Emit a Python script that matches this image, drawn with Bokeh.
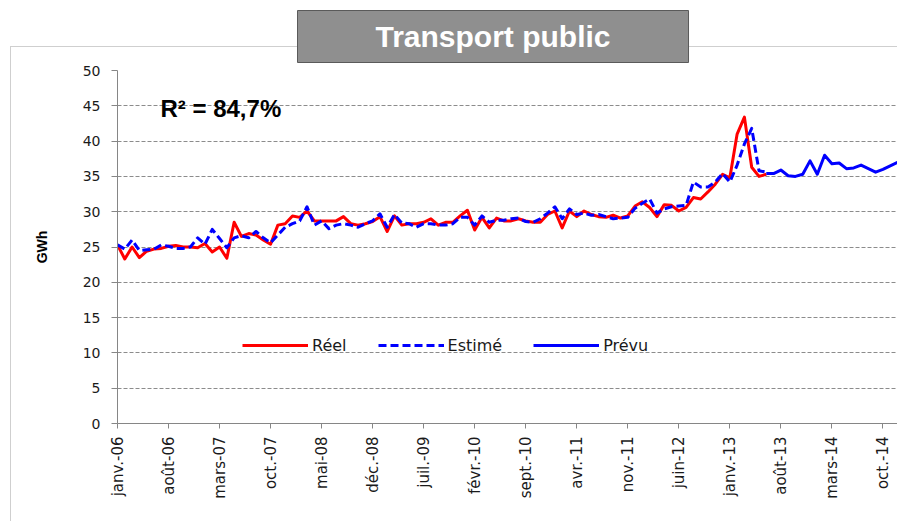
import math
from bokeh.plotting import figure
from bokeh.models import (Range1d, FixedTicker, Legend, LegendItem, Label, Title,
                          ColumnDataSource, InlineStyleSheet)
from bokeh.embed import file_html
from bokeh.resources import INLINE

title_text = "Transport public"
r2_text = "R\u00b2 = 84,7%"
y_label = "GWh"

tick_labels = ["janv.-06", "août-06", "mars-07", "oct.-07", "mai-08", "déc.-08",
               "juil.-09", "févr.-10", "sept.-10", "avr.-11", "nov.-11", "juin-12",
               "janv.-13", "août-13", "mars-14", "oct.-14"]
tick_step = 7          # months between labels
n_months = 108         # janv.-06 .. déc.-14

reel = [25.3, 23.3, 25.0, 23.5, 24.4, 24.7, 24.8, 25.1, 25.2, 25.0,
        25.0, 24.9, 25.5, 24.3, 25.0, 23.4, 28.5, 26.5, 26.9, 26.7,
        26.0, 25.4, 28.1, 28.3, 29.4, 29.2, 30.1, 28.7, 28.7, 28.7,
        28.7, 29.3, 28.3, 28.1, 28.3, 28.6, 29.3, 27.2, 29.4, 28.1,
        28.3, 28.3, 28.5, 29.0, 28.1, 28.5, 28.5, 29.4, 30.2, 27.4,
        29.2, 27.7, 29.1, 28.7, 28.7, 29.0, 28.7, 28.5, 28.5, 29.6,
        30.1, 27.7, 30.1, 29.3, 30.1, 29.6, 29.3, 29.2, 29.5, 29.1,
        29.4, 30.8, 31.4, 30.6, 29.3, 31.0, 30.9, 30.1, 30.6, 32.0,
        31.8, 32.8, 33.9, 35.3, 34.8, 41.0, 43.4, 36.3, 35.0, 35.3]

estime = [25.3, 24.7, 26.0, 24.5, 24.6, 24.7, 25.3, 25.1, 24.8, 24.8,
          25.0, 26.3, 25.4, 27.5, 26.2, 24.9, 26.3, 26.6, 26.3, 27.2,
          26.3, 25.6, 26.7, 27.8, 28.3, 28.7, 30.7, 28.1, 28.7, 27.6,
          28.1, 28.3, 28.1, 27.8, 28.3, 28.7, 29.7, 27.8, 29.6, 28.4,
          28.3, 27.8, 28.3, 28.3, 28.1, 28.1, 28.3, 29.2, 29.2, 28.1,
          29.4, 28.5, 28.8, 28.8, 29.0, 29.1, 28.6, 28.5, 29.0, 29.8,
          30.7, 29.0, 30.4, 29.6, 29.8, 29.5, 29.6, 29.3, 29.0, 29.1,
          29.2, 30.5, 31.2, 31.8, 29.8, 30.4, 30.7, 30.8, 30.9, 34.2,
          33.5, 33.5, 34.2, 35.4, 34.2, 36.6, 39.6, 41.8, 35.8, 35.6]

prevu_start = 89
prevu = [35.4, 35.4, 35.9, 35.1, 35.0, 35.3, 37.2, 35.3, 38.0, 36.8,
         36.9, 36.1, 36.2, 36.6, 36.1, 35.6, 36.0, 36.5, 37.0]

RED = "#FF0000"
BLUE = "#0000FF"

W, H = 897, 521
border_css = """
:host {
  background:
    linear-gradient(#CFCFCF, #CFCFCF) 10px 46px / 100% 1px no-repeat,
    linear-gradient(#CFCFCF, #CFCFCF) 10px 46px / 1px 100% no-repeat,
    white;
}
"""

p = figure(width=W, height=H, output_backend="svg", toolbar_location=None,
           x_range=Range1d(0, n_months - 1), y_range=Range1d(0, 50),
           min_border_left=117, min_border_right=0, min_border_top=70,
           min_border_bottom=98, title=None,
           stylesheets=[InlineStyleSheet(css=border_css)])
p.outline_line_color = None
p.background_fill_color = "white"
p.border_fill_alpha = 0

p.add_layout(Title(text=title_text, align="left", offset=180, standoff=16,
                   text_font="Liberation Sans", text_font_style="bold",
                   text_font_size="30px", text_color="white",
                   background_fill_color="#8F8F8F", background_fill_alpha=1,
                   border_line_color="#5A5A5A", border_line_width=1,
                   padding=dict(left=78, right=78, top=9, bottom=10)), "above")

src_r = ColumnDataSource(dict(x=list(range(len(reel))), y=reel))
src_e = ColumnDataSource(dict(x=list(range(len(estime))), y=estime))
src_p = ColumnDataSource(dict(x=list(range(prevu_start, prevu_start + len(prevu))), y=prevu))

r_reel = p.line("x", "y", source=src_r, line_color=RED, line_width=3, line_join="round")
r_est = p.line("x", "y", source=src_e, line_color=BLUE, line_width=3, line_dash="8 4",
               line_join="round")
r_prev = p.line("x", "y", source=src_p, line_color=BLUE, line_width=3, line_join="round")

# axes
p.xaxis.ticker = FixedTicker(ticks=[i * tick_step for i in range(len(tick_labels))])
p.xaxis.major_label_overrides = {i * tick_step: lab for i, lab in enumerate(tick_labels)}
p.xaxis.major_label_orientation = math.pi / 2
p.xaxis.major_tick_out = 5
p.xaxis.major_tick_in = 0
p.xaxis.minor_tick_line_color = None
p.xaxis.axis_line_color = "#868686"
p.xaxis.major_tick_line_color = "#868686"
p.xaxis.major_label_text_font = "DejaVu Sans"
p.xaxis.major_label_text_font_size = "15px"
p.xaxis.major_label_text_color = "#1a1a1a"
p.xaxis.major_label_standoff = 8

p.yaxis.ticker = FixedTicker(ticks=list(range(0, 51, 5)))
p.yaxis.major_tick_out = 6
p.yaxis.major_tick_in = 0
p.yaxis.minor_tick_line_color = None
p.yaxis.axis_line_color = "#868686"
p.yaxis.major_tick_line_color = "#868686"
p.yaxis.major_label_text_font = "DejaVu Sans"
p.yaxis.major_label_text_font_size = "14px"
p.yaxis.major_label_text_color = "#1a1a1a"
p.yaxis.major_label_standoff = 11
p.yaxis.axis_label = y_label
p.yaxis.axis_label_text_font = "Liberation Sans"
p.yaxis.axis_label_text_font_style = "bold"
p.yaxis.axis_label_text_font_size = "14px"
p.yaxis.axis_label_text_color = "#000000"
p.yaxis.axis_label_standoff = 30

p.xgrid.grid_line_color = None
p.ygrid.grid_line_color = "#8C8C8C"
p.ygrid.grid_line_dash = "4 2"
p.ygrid.grid_line_width = 1

# legend
legend = Legend(items=[LegendItem(label="Réel", renderers=[r_reel]),
                       LegendItem(label="Estimé", renderers=[r_est]),
                       LegendItem(label="Prévu", renderers=[r_prev])],
                orientation="horizontal", location=(125, 68),
                glyph_width=66, glyph_height=20, label_standoff=4, spacing=31,
                padding=0, margin=0, background_fill_alpha=0, border_line_color=None,
                label_text_font="DejaVu Sans", label_text_font_size="16px",
                label_text_color="#1a1a1a")
p.add_layout(legend)

# R² label
p.add_layout(Label(x=43, y=315, x_units="screen", y_units="screen", text=r2_text,
                   text_align="left", text_baseline="middle", text_color="black",
                   text_font="Liberation Sans", text_font_style="bold",
                   text_font_size="24px"))

open("out.html", "w").write(file_html(p, INLINE))
